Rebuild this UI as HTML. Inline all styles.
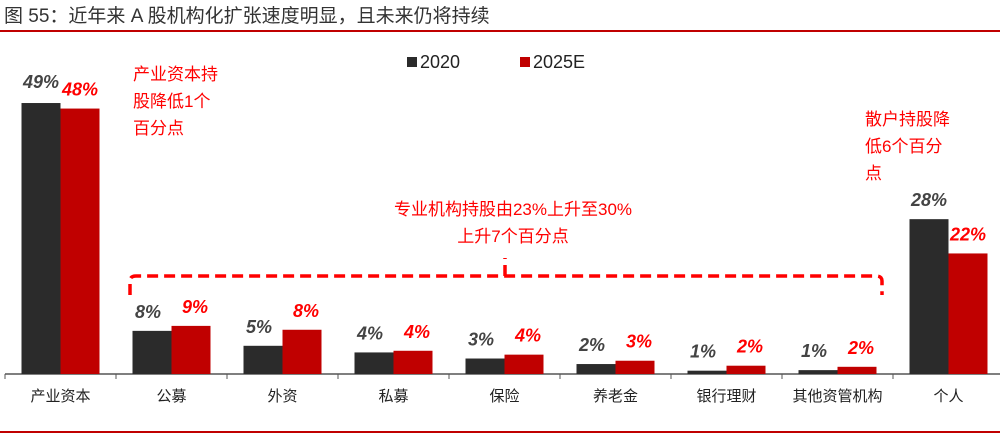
<!DOCTYPE html>
<html><head><meta charset="utf-8"><style>
body{margin:0;width:1000px;height:436px;background:#fff;overflow:hidden;font-family:"Liberation Sans","Noto Sans CJK SC",sans-serif}
</style></head><body>
<svg width="1000" height="436" xmlns="http://www.w3.org/2000/svg">
<text x="4" y="22" font-size="19" fill="#333" font-family="Liberation Sans, Noto Sans CJK SC, sans-serif">图 55：近年来 A 股机构化扩张速度明显，且未来仍将持续</text>
<line x1="0" y1="31" x2="1000" y2="31" stroke="#c00000" stroke-width="2"/>
<line x1="0" y1="432" x2="1000" y2="432" stroke="#c00000" stroke-width="2"/>
<g id="bars"></g>
<rect x="407" y="57" width="10" height="10" fill="#2b2b2b"/>
<text x="420" y="68" font-size="18" fill="#222">2020</text>
<rect x="520" y="57" width="10" height="10" fill="#c00000"/>
<text x="533" y="68" font-size="18" fill="#222">2025E</text>
<g font-size="17" fill="#ff0000" font-family="Liberation Sans, Noto Sans CJK SC, sans-serif">
<text><tspan x="133" y="80">产业资本持</tspan><tspan x="133" y="107">股降低1个</tspan><tspan x="133" y="134">百分点</tspan></text>
<text><tspan x="865" y="125">散户持股降</tspan><tspan x="865" y="152">低6个百分</tspan><tspan x="865" y="179">点</tspan></text>
<text text-anchor="middle"><tspan x="513" y="215">专业机构持股由23%上升至30%</tspan><tspan x="513" y="242">上升7个百分点</tspan></text>
</g>
<path d="M130 295 V281 Q130 276 136 276 H876 Q882 276 882 281 V295 M505 276 V258" fill="none" stroke="#ff0000" stroke-width="3.5" stroke-dasharray="11 6"/>
</svg>
<script>
const categories=["产业资本","公募","外资","私募","保险","养老金","银行理财","其他资管机构","个人"];
const values2020=[49,7.8,5.1,3.9,2.8,1.8,0.6,0.7,28];
const values2025=[48,8.7,8.0,4.2,3.5,2.4,1.5,1.3,21.8];
const labels2020=["49%","8%","5%","4%","3%","2%","1%","1%","28%"];
const labels2025=["48%","9%","8%","4%","4%","3%","2%","2%","22%"];
const NS="http://www.w3.org/2000/svg";
const g=document.getElementById('bars');
const x0=5,step=111,base=374,scale=5.53,bw=39;
const y=v=>base-v*scale;
function mk(t,a){const e=document.createElementNS(NS,t);for(const k in a)e.setAttribute(k,a[k]);g.appendChild(e);return e;}
const ax=mk('line',{x1:x0,y1:base,x2:1000,y2:base,stroke:'#555','stroke-width':1.5});


categories.forEach((c,i)=>{
 const cx=x0+step*(i+0.5);
 const tk=mk('line',{x1:x0+step*i,y1:base,x2:x0+step*i,y2:base+5,stroke:'#555'});
 
 
 const b1=mk('rect',{x:cx-bw,y:y(values2020[i]),width:bw,height:values2020[i]*scale,fill:'#2b2b2b'});
 
 
 const b2=mk('rect',{x:cx,y:y(values2025[i]),width:bw,height:values2025[i]*scale,fill:'#c00000'});
 
 
 const off=i===0||i===8?0:8;
 const l1=mk('text',{x:cx-bw/2-off/2,y:y(values2020[i])-(i===0?15:13),'font-size':18,'font-weight':'bold','font-style':'italic',fill:'#444','text-anchor':'middle'});
 l1.textContent=labels2020[i];
 
 
 const l2=mk('text',{x:cx+bw/2+off/2,y:y(values2025[i])-13,'font-size':18,'font-weight':'bold','font-style':'italic',fill:'#ff0000','text-anchor':'middle'});
 l2.textContent=labels2025[i];
 
 
 const cl=mk('text',{x:cx,y:401,'font-size':15,fill:'#222','text-anchor':'middle'});
 cl.textContent=c;
 
 
});
</script>
</body></html>
